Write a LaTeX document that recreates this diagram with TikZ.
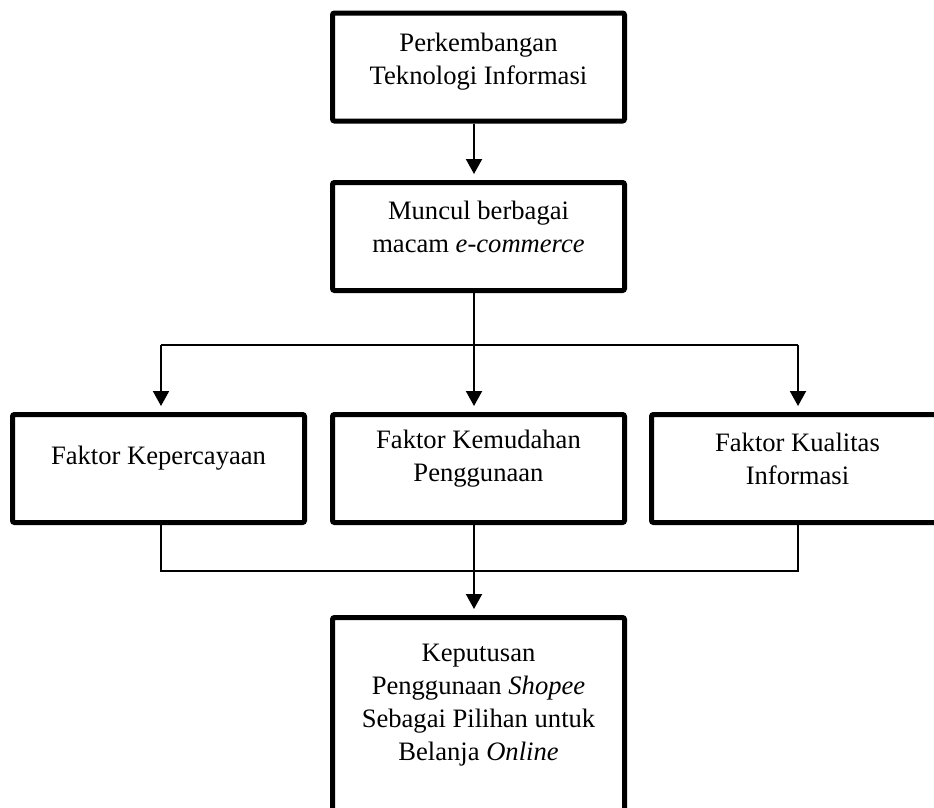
\documentclass[tikz,border=0pt]{standalone}
\usepackage{fontspec}
\setmainfont{Liberation Serif}
\usetikzlibrary{arrows.meta}
\begin{document}
\begin{tikzpicture}[x=1pt,y=-1pt,
  box/.style={draw, line width=5pt, rounded corners=2pt, minimum width=292pt, minimum height=108pt, inner sep=0pt},
  txt/.style={align=center, font=\fontsize{26.6}{33}\selectfont, inner sep=0pt},
  conn/.style={line width=2pt},
  arr/.style={conn, -{Triangle[width=16pt,length=15pt]}, shorten >=6pt}]
\useasboundingbox (0,0) rectangle (934,807);
\clip (0,0) rectangle (934,807);
\node[box] (tik) at (478.5,67) {};
\node[txt] (tikT) at (478.5,62) {Perkembangan\\Teknologi Informasi};
\node[box] (ecom) at (478.5,236.5) {};
\node[txt] (ecomT) at (478.5,227) {Muncul berbagai\\macam \textit{e-commerce}};
\node[box] (fk1) at (158.5,468.5) {};
\node[txt] (fk1T) at (158.5,458) {Faktor Kepercayaan};
\node[box] (fk2) at (478.5,468.5) {};
\node[txt] (fk2T) at (478.5,459) {Faktor Kemudahan\\Penggunaan};
\node[box] (fk3) at (797.5,468.5) {};
\node[txt] (fk3T) at (797.5,459) {Faktor Kualitas\\Informasi};
\node[box, minimum height=230pt] (kep) at (478.5,732.5) {};
\node[txt] (kepT) at (478.5,705) {Keputusan\\Penggunaan \textit{Shopee}\\Sebagai Pilihan untuk\\Belanja \textit{Online}};
\coordinate (cL) at (161,0);
\coordinate (cM) at (474,0);
\coordinate (cR) at (798,0);
\coordinate (jU) at (474,345);
\coordinate (jD) at (474,571);
\draw[arr] (tik.south -| cM) -- (ecom.north -| cM);
\draw[conn] (ecom.south -| cM) -- (jU);
\draw[conn] (jU -| cL) -- (jU -| cR);
\draw[arr] (jU -| cL) -- (fk1.north -| cL);
\draw[arr] (jU) -- (fk2.north -| cM);
\draw[arr] (jU -| cR) -- (fk3.north -| cR);
\draw[conn] (fk1.south -| cL) -- (jD -| cL) -- (jD -| cR) -- (fk3.south -| cR);
\draw[conn] (fk2.south -| cM) -- (jD);
\draw[arr] (jD) -- (kep.north -| cM);
\end{tikzpicture}
\end{document}
